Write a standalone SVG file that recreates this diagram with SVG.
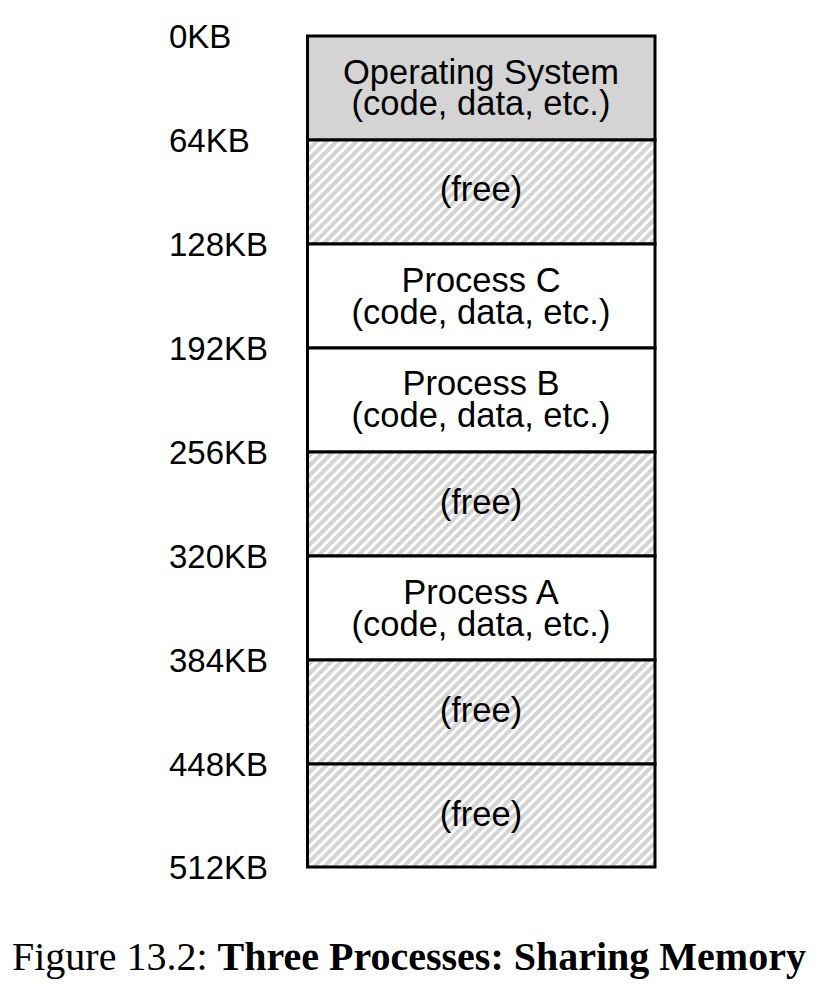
<svg xmlns="http://www.w3.org/2000/svg" width="822" height="998" viewBox="0 0 822 998">
  <style>
    .lbl { font-family: "Liberation Sans", Arial, sans-serif; font-size: 33px; fill: #000; }
    .txt { font-family: "Liberation Sans", Arial, sans-serif; font-size: 34.5px; fill: #000; text-anchor: middle; }
    .box { stroke: #000; stroke-width: 3; }
    .os { fill: #d4d4d4; }
    .used { fill: #fff; }
    .free { fill: url(#hatch); }
    .cap { font-family: "Liberation Serif", "Times New Roman", serif; font-size: 40px; fill: #000; }
  </style>
  <defs>
    <pattern id="hatch" patternUnits="userSpaceOnUse" width="7" height="7" patternTransform="rotate(45)">
      <rect x="0" y="0" width="7" height="7" fill="#fff"/>
      <rect x="0" y="0" width="4" height="7" fill="#d4d4d4"/>
    </pattern>
  </defs>
  <rect x="0" y="0" width="822" height="998" fill="#fff"/>

  <g id="os">
    <rect class="box os" x="307.5" y="36" width="347.5" height="104"/>
    <text class="txt"><tspan x="481" y="84">Operating System</tspan><tspan x="481" y="115">(code, data, etc.)</tspan></text>
  </g>
  <g id="free1">
    <rect class="box free" x="307.5" y="140" width="347.5" height="104"/>
    <text class="txt" x="481" y="201">(free)</text>
  </g>
  <g id="procC">
    <rect class="box used" x="307.5" y="244" width="347.5" height="104"/>
    <text class="txt"><tspan x="481" y="292">Process C</tspan><tspan x="481" y="324">(code, data, etc.)</tspan></text>
  </g>
  <g id="procB">
    <rect class="box used" x="307.5" y="348" width="347.5" height="104"/>
    <text class="txt"><tspan x="481" y="395">Process B</tspan><tspan x="481" y="427">(code, data, etc.)</tspan></text>
  </g>
  <g id="free2">
    <rect class="box free" x="307.5" y="452" width="347.5" height="104"/>
    <text class="txt" x="481" y="514">(free)</text>
  </g>
  <g id="procA">
    <rect class="box used" x="307.5" y="556" width="347.5" height="104"/>
    <text class="txt"><tspan x="481" y="604">Process A</tspan><tspan x="481" y="636">(code, data, etc.)</tspan></text>
  </g>
  <g id="free3">
    <rect class="box free" x="307.5" y="660" width="347.5" height="104"/>
    <text class="txt" x="481" y="722">(free)</text>
  </g>
  <g id="free4">
    <rect class="box free" x="307.5" y="764" width="347.5" height="103"/>
    <text class="txt" x="481" y="826">(free)</text>
  </g>

  <g id="labels">
    <text class="lbl" x="169" y="47.5">0KB</text>
    <text class="lbl" x="169" y="151.5">64KB</text>
    <text class="lbl" x="169" y="255.5">128KB</text>
    <text class="lbl" x="169" y="359.5">192KB</text>
    <text class="lbl" x="169" y="463.5">256KB</text>
    <text class="lbl" x="169" y="567.5">320KB</text>
    <text class="lbl" x="169" y="671.5">384KB</text>
    <text class="lbl" x="169" y="775.5">448KB</text>
    <text class="lbl" x="169" y="878.5">512KB</text>
  </g>

  <g id="connectors"></g>

  <text class="cap" x="12" y="970">Figure 13.2: <tspan font-weight="bold">Three Processes: Sharing Memory</tspan></text>
</svg>
